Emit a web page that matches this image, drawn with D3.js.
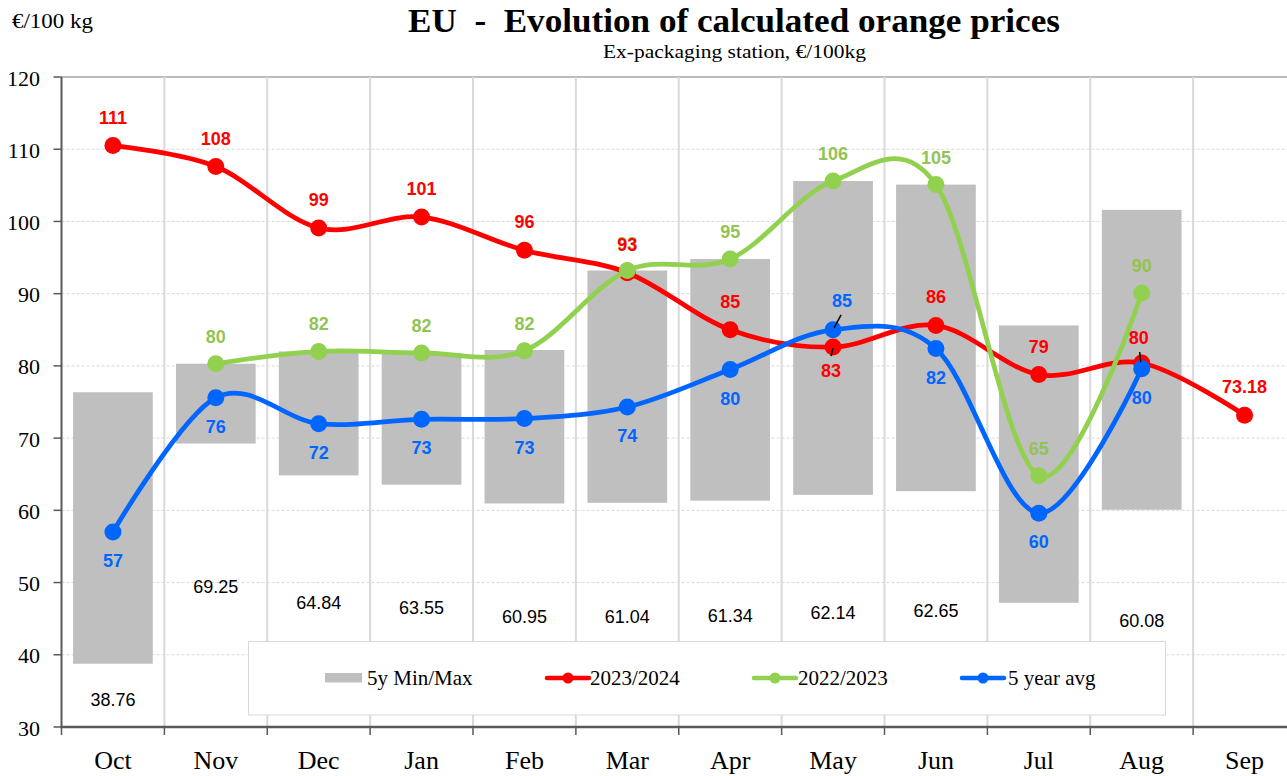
<!DOCTYPE html>
<html>
<head>
<meta charset="utf-8">
<script src="https://cdn.jsdelivr.net/npm/d3@7"></script>
<style>
  html, body { margin: 0; padding: 0; background: #fff; }
  svg { display: block; }
</style>
</head>
<body>
<svg id="chart" width="1287" height="776"></svg>
<script>
// ---------------- DATA ----------------
const months = ["Oct","Nov","Dec","Jan","Feb","Mar","Apr","May","Jun","Jul","Aug","Sep"];
const yTicks = [30,40,50,60,70,80,90,100,110,120];
const minMaxLow  = [38.76, 69.25, 64.84, 63.55, 60.95, 61.04, 61.34, 62.14, 62.65, 47.2, 60.08, null];
const minMaxHigh = [76.35, 80.3, 82.0, 81.8, 82.2, 93.2, 94.8, 105.6, 105.1, 85.6, 101.6, null];
const s2023_2024 = [110.5, 107.6, 99.1, 100.6, 96.0, 92.9, 85.0, 82.6, 85.6, 78.8, 80.4, 73.18];
const s2022_2023 = [null, 80.3, 82.0, 81.8, 82.1, 93.2, 94.8, 105.6, 105.1, 64.8, 90.1, null];
const s5yearAvg  = [57.0, 75.6, 72.0, 72.6, 72.7, 74.3, 79.5, 85.0, 82.4, 59.6, 79.6, null];

const seriesNames = ["2023/2024","2022/2023","5 year avg"];
const barLegend = "5y Min/Max";
const titleText = "EU  -  Evolution of calculated orange prices";
const subtitleText = "Ex-packaging station, €/100kg";
const unitText = "€/100 kg";

// ---------------- STYLE / LAYOUT ----------------
const W = 1287, H = 776;
const plot = {left: 61.5, right: 1296, top: 77, bottom: 727};
const legendBox = {x: 248.5, y: 641.5, w: 917, h: 73.5};
const colors = {"2023/2024": "#ff0000", "2022/2023": "#92d050", "5 year avg": "#0066ff"};
const labelColors = {"2023/2024": "#ff0000", "2022/2023": "#92c353", "5 year avg": "#0066ff"};
const serif = "'Times New Roman', 'Liberation Serif', serif";
const sans = "Arial, 'Liberation Sans', sans-serif";

const svg = d3.select("#chart");

const x = d3.scaleBand().domain(months).range([plot.left, plot.right]).paddingInner(0).paddingOuter(0);
const y = d3.scaleLinear().domain([30,120]).range([plot.bottom, plot.top]);
// secondary (hidden) axis used by the min-value labels
const y2 = d3.scaleLinear().domain([25,200]).range([plot.bottom, plot.top]);
const cx = m => x(m) + x.bandwidth()/2;

// ---------------- GRID ----------------
const grid = svg.append("g");
grid.selectAll("line.h").data(yTicks.filter(t => t > 30 && t < 120)).join("line")
  .attr("x1", plot.left).attr("x2", plot.right)
  .attr("y1", d => y(d)).attr("y2", d => y(d))
  .attr("stroke", "#d9d9d9").attr("stroke-width", 1).attr("stroke-dasharray", "3,2");
grid.append("line")
  .attr("x1", plot.left).attr("x2", plot.right)
  .attr("y1", y(120)).attr("y2", y(120))
  .attr("stroke", "#a6a6a6").attr("stroke-width", 1.5);
grid.selectAll("line.v").data(months).join("line")
  .attr("x1", d => x(d) + x.bandwidth())
  .attr("x2", d => x(d) + x.bandwidth())
  .attr("y1", plot.top).attr("y2", plot.bottom)
  .attr("stroke", "#d9d9d9").attr("stroke-width", 2);

// ---------------- BARS ----------------
const barW = x.bandwidth() * 0.775;
const barData = months.map((m,i) => ({m, lo: minMaxLow[i], hi: minMaxHigh[i]})).filter(d => d.lo != null);
svg.append("g").selectAll("rect").data(barData).join("rect")
  .attr("x", d => cx(d.m) - barW/2)
  .attr("width", barW)
  .attr("y", d => y(d.hi))
  .attr("height", d => y(d.lo) - y(d.hi))
  .attr("fill", "#bfbfbf");

// min labels (those falling behind the legend box are hidden, as in the original)
const minLabelY = d => y2(d.lo) + 24;
const hiddenByLegend = d => {
  const lx = cx(d.m), ly = minLabelY(d);
  return lx > legendBox.x && lx < legendBox.x + legendBox.w && ly > legendBox.y - 8 && ly < legendBox.y + legendBox.h + 8;
};
svg.append("g").selectAll("text").data(barData.filter(d => !hiddenByLegend(d))).join("text")
  .attr("x", d => cx(d.m))
  .attr("y", minLabelY)
  .attr("text-anchor", "middle")
  .attr("dominant-baseline", "central")
  .attr("font-family", sans).attr("font-size", 18).attr("fill", "#000")
  .text(d => d3.format(".2f")(d.lo));

// ---------------- AXES ----------------
const axisG = svg.append("g");
axisG.append("line").attr("x1", plot.left).attr("x2", plot.left)
  .attr("y1", plot.top).attr("y2", plot.bottom).attr("stroke", "#595959").attr("stroke-width", 2);
axisG.append("line").attr("x1", plot.left - 1).attr("x2", plot.right)
  .attr("y1", plot.bottom).attr("y2", plot.bottom).attr("stroke", "#595959").attr("stroke-width", 2.5);
axisG.selectAll("line.yt").data(yTicks).join("line")
  .attr("x1", plot.left - 8).attr("x2", plot.left)
  .attr("y1", d => y(d)).attr("y2", d => y(d))
  .attr("stroke", "#595959").attr("stroke-width", 1.5);
axisG.selectAll("text.yl").data(yTicks).join("text")
  .attr("x", 40).attr("y", d => y(d) + 1)
  .attr("text-anchor", "end").attr("dominant-baseline", "central")
  .attr("font-family", serif).attr("font-size", 22).attr("fill", "#000")
  .text(d => d);
axisG.selectAll("line.xt").data(months.concat(["__end"])).join("line")
  .attr("x1", (d,i) => plot.left + i * x.bandwidth())
  .attr("x2", (d,i) => plot.left + i * x.bandwidth())
  .attr("y1", plot.bottom).attr("y2", plot.bottom + 8)
  .attr("stroke", "#595959").attr("stroke-width", 1.5);
axisG.selectAll("text.xl").data(months).join("text")
  .attr("x", d => cx(d)).attr("y", 769)
  .attr("text-anchor", "middle")
  .attr("font-family", serif).attr("font-size", 26).attr("fill", "#000")
  .text(d => d);

// ---------------- LINES ----------------
const seriesData = {
  "2023/2024": s2023_2024,
  "2022/2023": s2022_2023,
  "5 year avg": s5yearAvg
};
const line = d3.line()
  .defined(d => d.v != null)
  .x(d => cx(d.m)).y(d => y(d.v))
  .curve(d3.curveCardinal.tension(0));

seriesNames.forEach(name => {
  const pts = months.map((m,i) => ({m, v: seriesData[name][i]}));
  const g = svg.append("g");
  g.append("path").datum(pts.filter(d => d.v != null))
    .attr("d", line).attr("fill", "none")
    .attr("stroke", colors[name]).attr("stroke-width", 4.75)
    .attr("stroke-linejoin", "round").attr("stroke-linecap", "round");
  g.selectAll("circle").data(pts.filter(d => d.v != null)).join("circle")
    .attr("cx", d => cx(d.m)).attr("cy", d => y(d.v)).attr("r", 8.5)
    .attr("fill", colors[name]);
});

// ---------------- DATA LABELS ----------------
const defaultDy = {"2023/2024": -28, "2022/2023": -27, "5 year avg": 29};
const labelTweaks = {
  "2023/2024": {
    "May": {dx: -2, dy: 24, leader: [[0, 1], [-2, 9]]},
    "Aug": {dx: -3, dy: -25, leader: [[-2, -11], [-1, -1]]}
  },
  "5 year avg": {
    "May": {dx: 9, dy: -29, leader: [[8, -15], [1, -2]]}
  }
};
const labelOrder = ["2022/2023", "5 year avg", "2023/2024"];
const labelsG = svg.append("g");
const leadersG = svg.append("g");
labelOrder.forEach(name => {
  const vals = seriesData[name];
  const lastIdx = vals.length - 1;
  months.forEach((m,i) => {
    const v = vals[i];
    if (v == null) return;
    const tw = (labelTweaks[name] || {})[m] || {};
    const dx = tw.dx || 0;
    const dy = tw.dy != null ? tw.dy : defaultDy[name];
    const txt = (name === "2023/2024" && i === lastIdx) ? d3.format(".2f")(v) : d3.format(".0f")(v);
    labelsG.append("text")
      .attr("x", cx(m) + dx).attr("y", y(v) + dy)
      .attr("text-anchor", "middle").attr("dominant-baseline", "central")
      .attr("font-family", sans).attr("font-weight", "bold").attr("font-size", 18)
      .attr("fill", labelColors[name])
      .text(txt);
    if (tw.leader) {
      leadersG.append("line")
        .attr("x1", cx(m) + tw.leader[0][0]).attr("y1", y(v) + tw.leader[0][1])
        .attr("x2", cx(m) + tw.leader[1][0]).attr("y2", y(v) + tw.leader[1][1])
        .attr("stroke", "#000").attr("stroke-width", 1.5);
    }
  });
});

// ---------------- LEGEND ----------------
const lg = svg.append("g");
lg.append("rect").attr("x", legendBox.x).attr("y", legendBox.y).attr("width", legendBox.w).attr("height", legendBox.h)
  .attr("fill", "#fff").attr("stroke", "#d9d9d9").attr("stroke-width", 1);
const legY = 678;
const legItems = [
  {name: barLegend, type: "bar", x0: 325, tx: 367},
  {name: seriesNames[0], type: "line", x0: 547, tx: 590},
  {name: seriesNames[1], type: "line", x0: 754, tx: 798},
  {name: seriesNames[2], type: "line", x0: 962, tx: 1008}
];
legItems.forEach(it => {
  if (it.type === "bar") {
    lg.append("rect").attr("x", it.x0).attr("y", legY - 5).attr("width", 37).attr("height", 9.5).attr("fill", "#bfbfbf");
  } else {
    lg.append("line").attr("x1", it.x0).attr("x2", it.x0 + 42).attr("y1", legY).attr("y2", legY)
      .attr("stroke", colors[it.name]).attr("stroke-width", 4.5).attr("stroke-linecap", "round");
    lg.append("circle").attr("cx", it.x0 + 21).attr("cy", legY).attr("r", 5.5).attr("fill", colors[it.name]);
  }
  lg.append("text").attr("x", it.tx).attr("y", legY).attr("dominant-baseline", "central")
    .attr("font-family", serif).attr("font-size", 21).attr("fill", "#000").text(it.name);
});

// ---------------- TITLES ----------------
svg.append("text").attr("x", 734).attr("y", 31.5)
  .attr("text-anchor", "middle")
  .attr("font-family", serif).attr("font-weight", "bold").attr("font-size", 33)
  .attr("textLength", 652).attr("lengthAdjust", "spacingAndGlyphs")
  .style("white-space", "pre")
  .text(titleText);
svg.append("text").attr("x", 734.5).attr("y", 58)
  .attr("text-anchor", "middle")
  .attr("font-family", serif).attr("font-size", 18)
  .attr("textLength", 263).attr("lengthAdjust", "spacingAndGlyphs")
  .text(subtitleText);
svg.append("text").attr("x", 12).attr("y", 28)
  .attr("font-family", serif).attr("font-size", 21)
  .attr("textLength", 81).attr("lengthAdjust", "spacingAndGlyphs")
  .text(unitText);
</script>
</body>
</html>
